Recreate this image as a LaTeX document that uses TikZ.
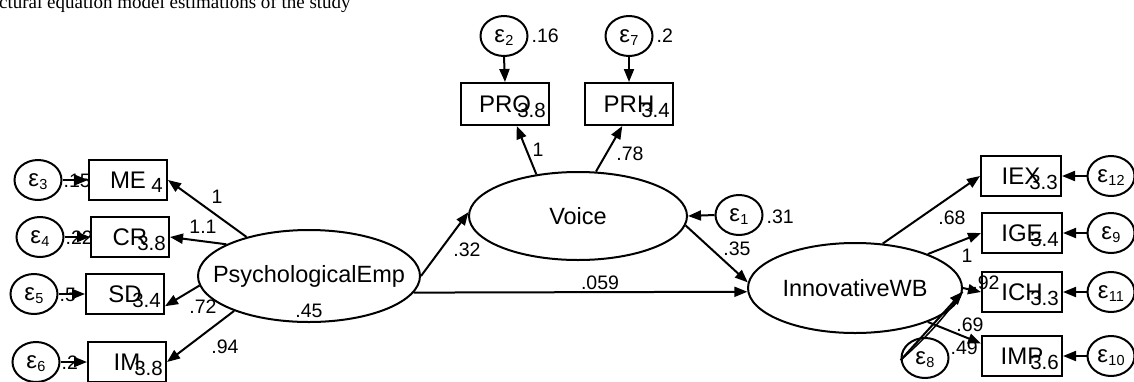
\documentclass[tikz,border=0pt]{standalone}
\usepackage{fontspec}
\setmainfont{Liberation Sans}
\newfontfamily\capfont{Liberation Serif}
\usetikzlibrary{shapes.geometric,arrows.meta,calc}
\newcommand{\epsn}[1]{ε\kern0.3pt\raisebox{-3.5pt}[0pt][0pt]{\fontsize{14.5}{14.5}\selectfont #1}}
\tikzset{
  lat/.style={ellipse, draw, line width=2pt, inner sep=0pt, font=\fontsize{23.5}{23.5}\selectfont},
  obs/.style={rectangle, draw, line width=2pt, minimum width=78pt, minimum height=40pt, inner sep=0pt, font=\fontsize{24}{24}\selectfont},
  obstop/.style={obs, minimum width=88pt, minimum height=42pt},
  err/.style={ellipse, draw, line width=2pt, minimum width=47pt, minimum height=40pt, inner sep=0pt, font=\fontsize{24}{24}\selectfont},
  lab/.style={inner sep=0pt, font=\fontsize{19.5}{19.5}\selectfont},
  mean/.style={inner sep=0pt, anchor=base east, font=\fontsize{20.5}{20.5}\selectfont},
  pth/.style={line width=2pt, -{Triangle[length=13pt,width=10pt]}},
}
\begin{document}
\begin{tikzpicture}[x=1pt,y=-1pt]
\useasboundingbox (0,0) rectangle (1134,381);
\clip (0,0) rectangle (1134,381);
\fill[white] (0,0) rectangle (1134,381);
% caption fragment
\node[inner sep=0pt, anchor=base west, font=\capfont\fontsize{19}{19}\selectfont] (cap) at (-1,8) {ctural equation model estimations of the study};
% latent variables
\node[lat, minimum width=222pt, minimum height=92pt] (PE) at (309,276) {\makebox[0pt]{PsychologicalEmp}};
\node[lat, minimum width=218pt, minimum height=88pt] (Voice) at (578,216) {\makebox[0pt]{Voice}};
\node[lat, minimum width=214pt, minimum height=90pt] (IWB) at (855,288) {\makebox[0pt]{InnovativeWB}};
% observed, left
\node[obs] (ME) at (128,180) {ME};
\node[obs] (CR) at (130,237) {CR};
\node[obs] (SD) at (125,294) {SD};
\node[obs] (IM) at (127,362) {IM};
% observed, top
\node[obstop] (PRO) at (505,104) {PRO};
\node[obstop] (PRH) at (629,104) {PRH};
% observed, right
\node[obs, minimum width=80pt] (IEX) at (1021,176) {IEX};
\node[obs, minimum width=80pt] (IGE) at (1022,233) {IGE};
\node[obs, minimum width=80pt] (ICH) at (1022,292) {ICH};
\node[obs, minimum width=80pt] (IMP) at (1022,356) {IMP};
% means
\node[mean] (mME) at ($(ME.south east)+(-5,-9)$) {4};
\node[mean] (mCR) at ($(CR.south east)+(-4,-8)$) {3.8};
\node[mean] (mSD) at ($(SD.south east)+(-4,-8)$) {3.4};
\node[mean] (mIM) at ($(IM.south east)+(-4,-8)$) {3.8};
\node[mean] (mPRO) at ($(PRO.south east)+(-4,-9)$) {3.8};
\node[mean] (mPRH) at ($(PRH.south east)+(-4,-9)$) {3.4};
\node[mean] (mIEX) at ($(IEX.south east)+(-4,-8)$) {3.3};
\node[mean] (mIGE) at ($(IGE.south east)+(-4,-8)$) {3.4};
\node[mean] (mICH) at ($(ICH.south east)+(-4,-8)$) {3.3};
\node[mean] (mIMP) at ($(IMP.south east)+(-4,-8)$) {3.6};
% errors
\node[err] (e1) at (739,215) {\epsn{1}};
\node[err] (e2) at (504,36) {\epsn{2}};
\node[err] (e7) at (629,36) {\epsn{7}};
\node[err] (e3) at (38,180) {\epsn{3}};
\node[err] (e4) at (40,237) {\epsn{4}};
\node[err] (e5) at (34,294) {\epsn{5}};
\node[err] (e6) at (36,362) {\epsn{6}};
\node[err] (e12) at (1111,176) {\epsn{12}};
\node[err] (e9) at (1111,233) {\epsn{9}};
\node[err] (e11) at (1111,292) {\epsn{11}};
\node[err] (e10) at (1111,356) {\epsn{10}};
\node[err] (e8) at (925,358) {\epsn{8}};
% structural paths
\draw[pth] (PE.east) -- (Voice.178);
\draw[pth] (PE.-9) -- (IWB.182);
\draw[pth] (Voice.-5) -- (IWB.177);
\draw[pth] (e1.west) -- (Voice.east);
\draw[pth] (e8.185) -- (IWB.-2);
\draw[line width=1.5pt] (e8.185) to[bend right=6] (IWB.-2);
% measurement paths
\draw[pth] (PE.148) -- (ME.east);
\draw[pth] (PE.159) -- (CR.east);
\draw[pth] (PE.185) -- (SD.-17);
\draw[pth] (PE.205) -- (IM.east);
\draw[pth] (Voice.135) -- (PRO.-62);
\draw[pth] (Voice.68) -- (PRH.-107);
\draw[pth] (IWB.58) -- (IEX.west);
\draw[pth] (IWB.25) -- (IGE.west);
\draw[pth] (IWB.east) -- (ICH.west);
\draw[pth] (IWB.-25) -- (IMP.163);
% error paths
\draw[pth] (e2.south) -- (PRO.north);
\draw[pth] (e7.south) -- (PRH.north);
\draw[pth] (e3.east) -- (ME.west);
\draw[pth] (e4.east) -- (CR.west);
\draw[pth] (e5.east) -- (SD.west);
\draw[pth] (e6.east) -- (IM.west);
\draw[pth] (e12.west) -- (IEX.east);
\draw[pth] (e9.west) -- (IGE.east);
\draw[pth] (e11.west) -- (ICH.east);
\draw[pth] (e10.west) -- (IMP.east);
% coefficient labels
\node[lab] (l1) at (217,197) {1};
\node[lab] (l2) at (203,227) {1.1};
\node[lab] (l3) at (203,307) {.72};
\node[lab] (l4) at (225,347) {.94};
\node[lab] (l5) at (309,311) {.45};
\node[lab] (l6) at (467,250) {.32};
\node[lab] (l7) at (600,283) {.059};
\node[lab] (l8) at (538,150) {1};
\node[lab] (l9) at (630,154) {.78};
\node[lab] (l10) at (737,249) {.35};
\node[lab, anchor=west] (l11) at ($(e1.east)+(3,2)$) {.31};
\node[lab, anchor=west] (l12) at ($(e2.east)+(3,0)$) {.16};
\node[lab, anchor=west] (l13) at ($(e7.east)+(3,0)$) {.2};
\node[lab] (l14) at (952,218) {.68};
\node[lab] (l15) at (967,256) {1};
\node[lab] (l16) at (986,283) {.92};
\node[lab] (l17) at (970,325) {.69};
\node[lab, anchor=west] (l18) at ($(e8.east)+(1,-10)$) {.49};
\node[lab, anchor=west] (l19) at ($(e3.east)+(1,1)$) {.15};
\node[lab, anchor=west] (l20) at ($(e4.east)+(1,1)$) {.22};
\node[lab, anchor=west] (l21) at ($(e5.east)+(1,1)$) {.5};
\node[lab, anchor=west] (l22) at ($(e6.east)+(1,1)$) {.2};
\end{tikzpicture}
\end{document}
